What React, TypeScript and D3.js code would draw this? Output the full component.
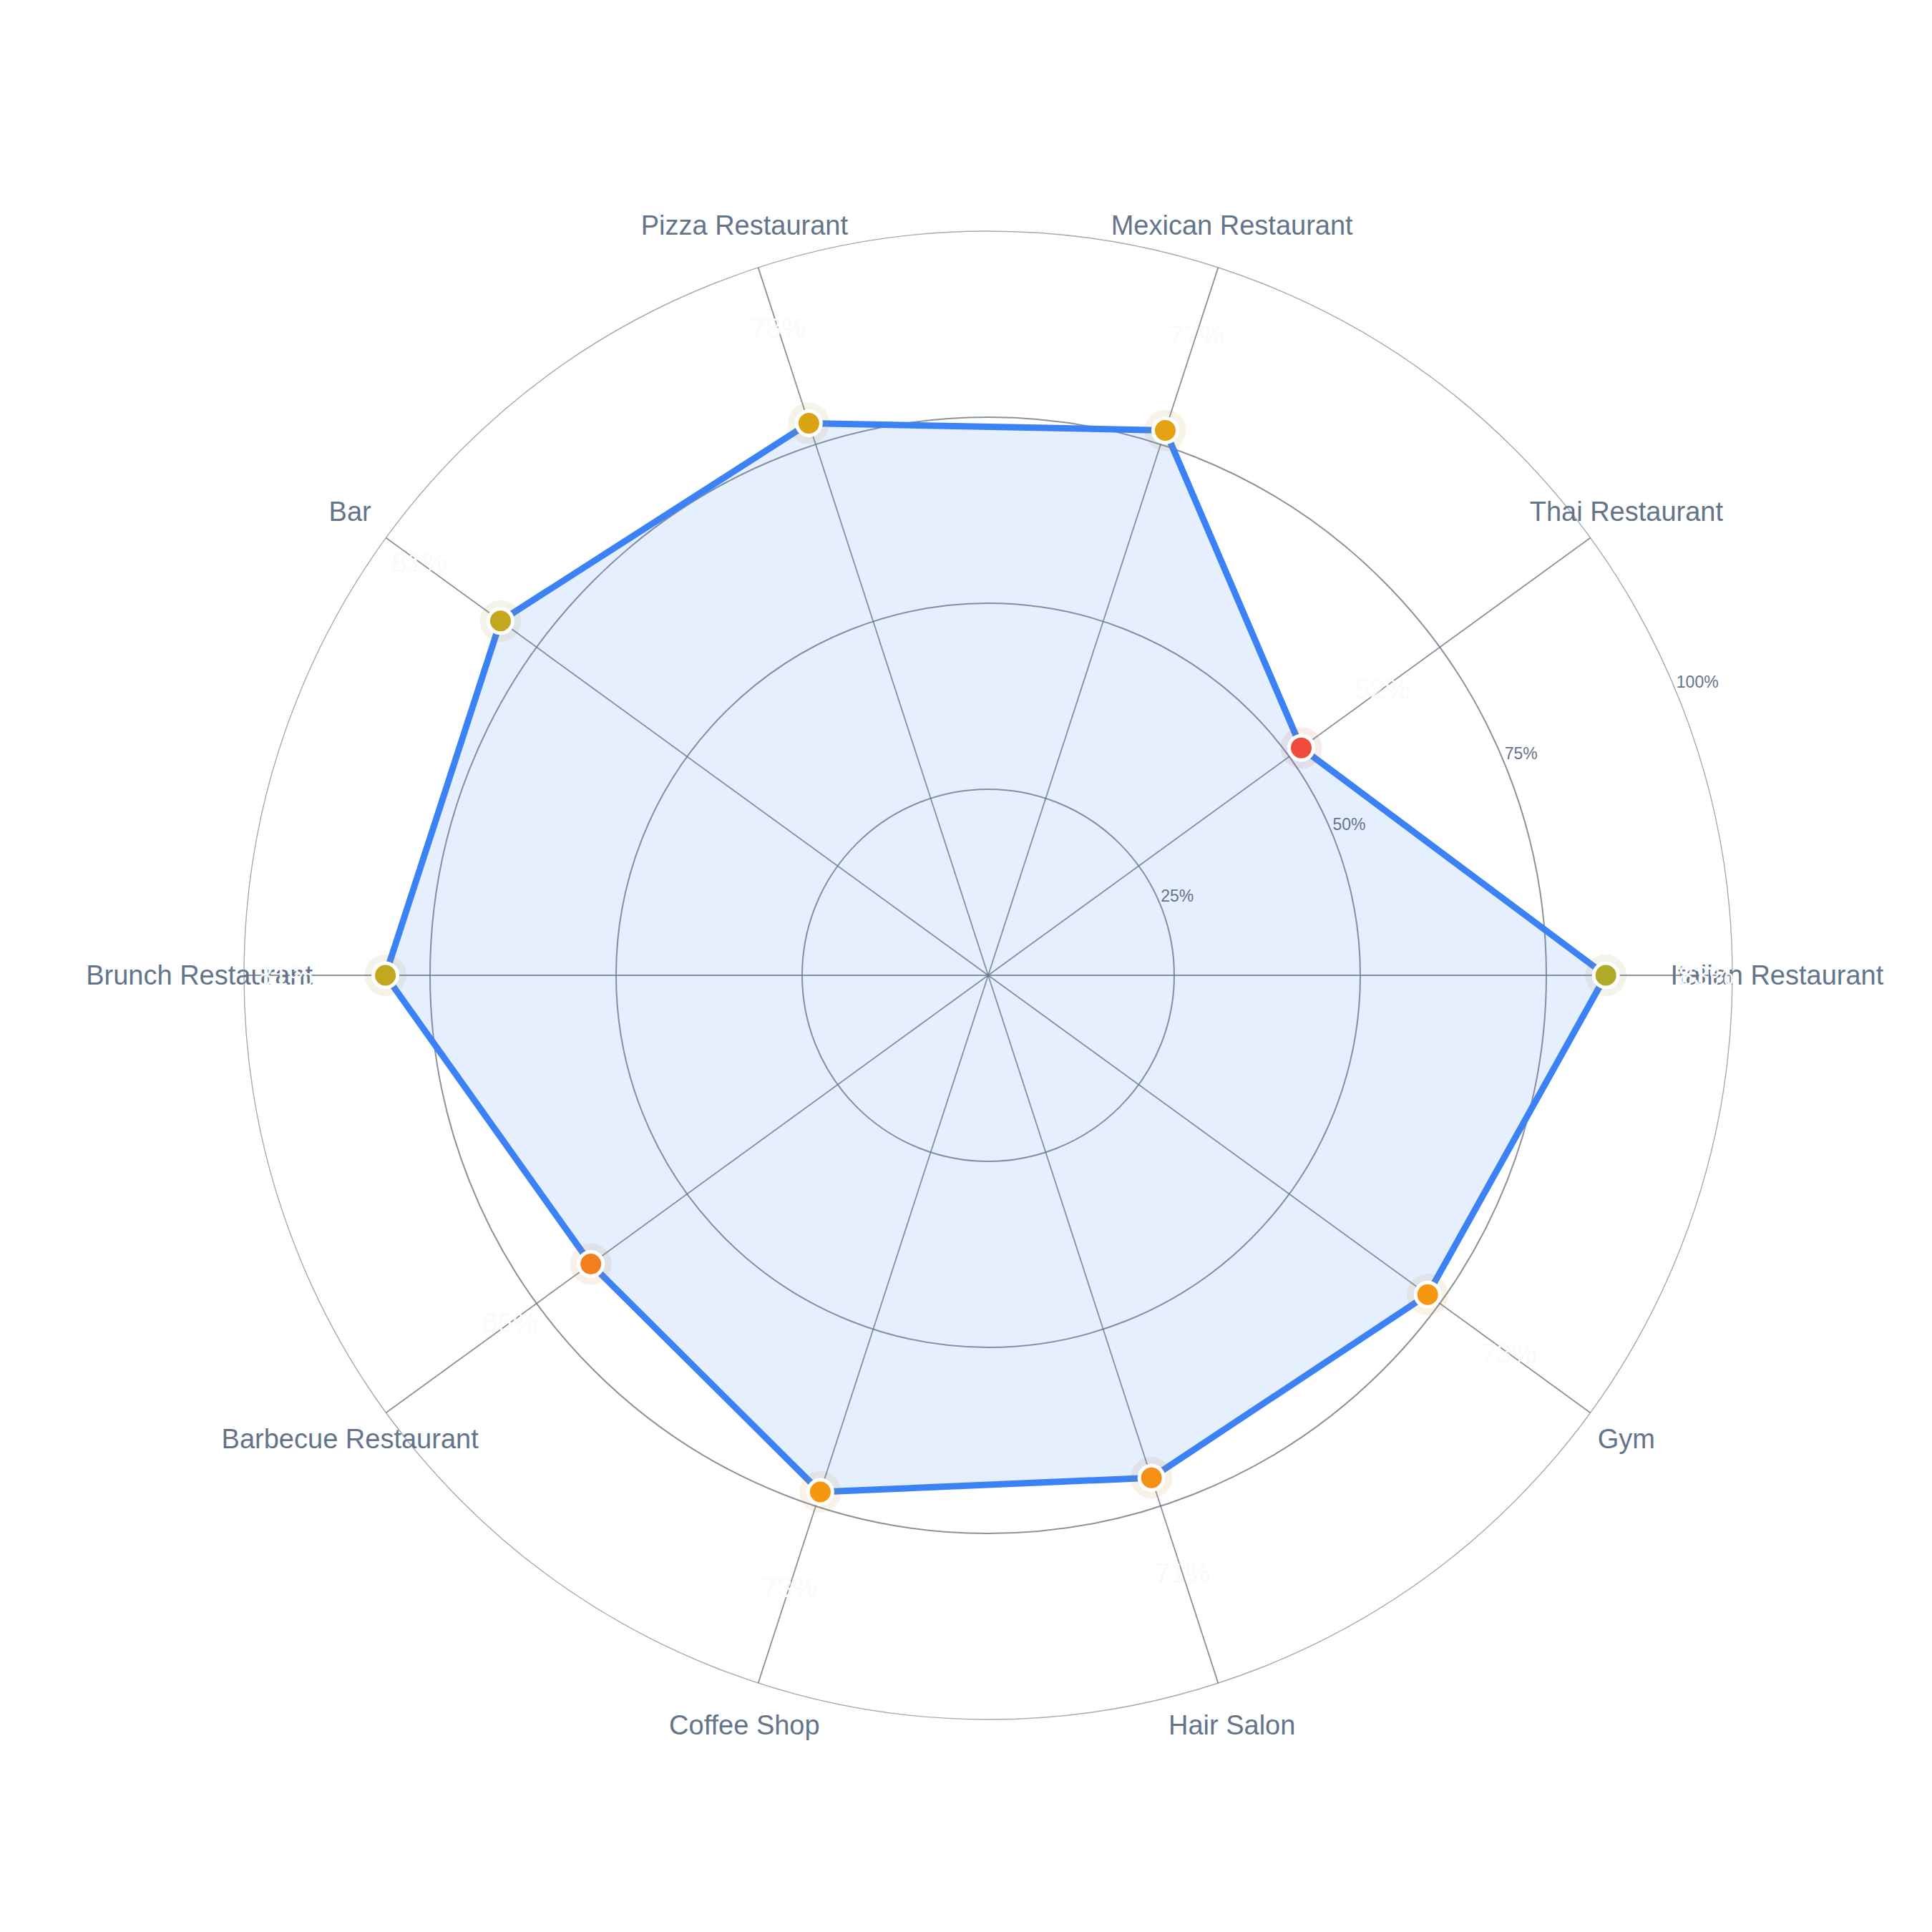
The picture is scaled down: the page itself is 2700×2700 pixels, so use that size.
import React from "react";
import * as d3 from "d3";

const categories = [
  "Italian Restaurant",
  "Thai Restaurant",
  "Mexican Restaurant",
  "Pizza Restaurant",
  "Bar",
  "Brunch Restaurant",
  "Barbecue Restaurant",
  "Coffee Shop",
  "Hair Salon",
  "Gym",
];
const values = [83, 52, 77, 78, 81, 81, 66, 73, 71, 73];
const ringTicks = [25, 50, 75, 100];
const tickLabels = ["25%", "50%", "75%", "100%"];

const W = 2700;
const H = 2700;
const CX = 1381;
const CY = 1363;
const R = 1040;
const FONT = "'Liberation Sans', Arial, Helvetica, sans-serif";

export default function App() {
  const r = d3.scaleLinear().domain([0, 100]).range([0, R]);
  const n = categories.length;
  const angle = (i: number) => Math.PI / 2 - (i * 2 * Math.PI) / n;
  const color = d3
    .scaleLinear<string>()
    .domain([50, 75, 100])
    .range(["#ef4444", "#f59e0b", "#22c55e"]);

  const line = d3
    .lineRadial<number>()
    .angle((_, i) => angle(i))
    .radius((d) => r(d))
    .curve(d3.curveLinearClosed);
  const pathD = line(values) || "";

  const tickAngle = (3 * Math.PI) / 8;

  return (
    <div style={{ position: "absolute", left: 0, top: 0 }}>
      <svg width={W} height={H} style={{ display: "block", background: "#ffffff" }}>
        <g transform={`translate(${CX},${CY})`}>
          {ringTicks.map((t, k) => (
            <circle
              key={"ring" + t}
              r={r(t)}
              fill="none"
              stroke="#6b7280"
              strokeOpacity={k === ringTicks.length - 1 ? 0.6 : 0.78}
              strokeWidth={k === ringTicks.length - 1 ? 1.4 : 2}
            />
          ))}
          {categories.map((c, i) => {
            const [x, y] = d3.pointRadial(angle(i), r(100));
            return (
              <line
                key={"spoke" + c}
                x1={0}
                y1={0}
                x2={x}
                y2={y}
                stroke="#6b7280"
                strokeOpacity={0.78}
                strokeWidth={1.8}
              />
            );
          })}
          <path d={pathD} fill="#3b82f6" fillOpacity={0.13} stroke="none" />
          <path
            d={pathD}
            fill="none"
            stroke="#3b82f6"
            strokeWidth={9}
            strokeLinejoin="round"
          />
          {ringTicks.map((t, k) => {
            const [x, y] = d3.pointRadial(tickAngle, r(t));
            return (
              <text
                key={"tick" + t}
                x={x + 1}
                y={y - 12}
                fontFamily={FONT}
                fontSize={23}
                fill="#64748b"
                textAnchor="start"
                dominantBaseline="central"
              >
                {tickLabels[k]}
              </text>
            );
          })}
          {values.map((v, i) => {
            const [x, y] = d3.pointRadial(angle(i), r(v));
            const col = color(v);
            return (
              <g key={"m" + i}>
                <circle cx={x} cy={y} r={29} fill={col} fillOpacity={0.08} />
                <circle cx={x} cy={y} r={29} fill="#64748b" fillOpacity={0.04} />
                <circle
                  cx={x}
                  cy={y}
                  r={17}
                  fill={col}
                  stroke="#ffffff"
                  strokeWidth={5}
                />
              </g>
            );
          })}
          {categories.map((c, i) => {
            const [x, y] = d3.pointRadial(angle(i), r(106));
            return (
              <text
                key={"cat" + c}
                x={x}
                y={y}
                fontFamily={FONT}
                fontSize={38}
                fill="#64748b"
                textAnchor="middle"
                dominantBaseline="central"
              >
                {c}
              </text>
            );
          })}
          {values.map((v, i) => {
            const [x, y] = d3.pointRadial(angle(i), r(v) + 140);
            return (
              <text
                key={"val" + i}
                x={x}
                y={y}
                fontFamily={FONT}
                fontSize={39}
                fill="#f8fafc"
                textAnchor="middle"
                dominantBaseline="central"
              >
                {v + "%"}
              </text>
            );
          })}
        </g>
      </svg>
    </div>
  );
}
